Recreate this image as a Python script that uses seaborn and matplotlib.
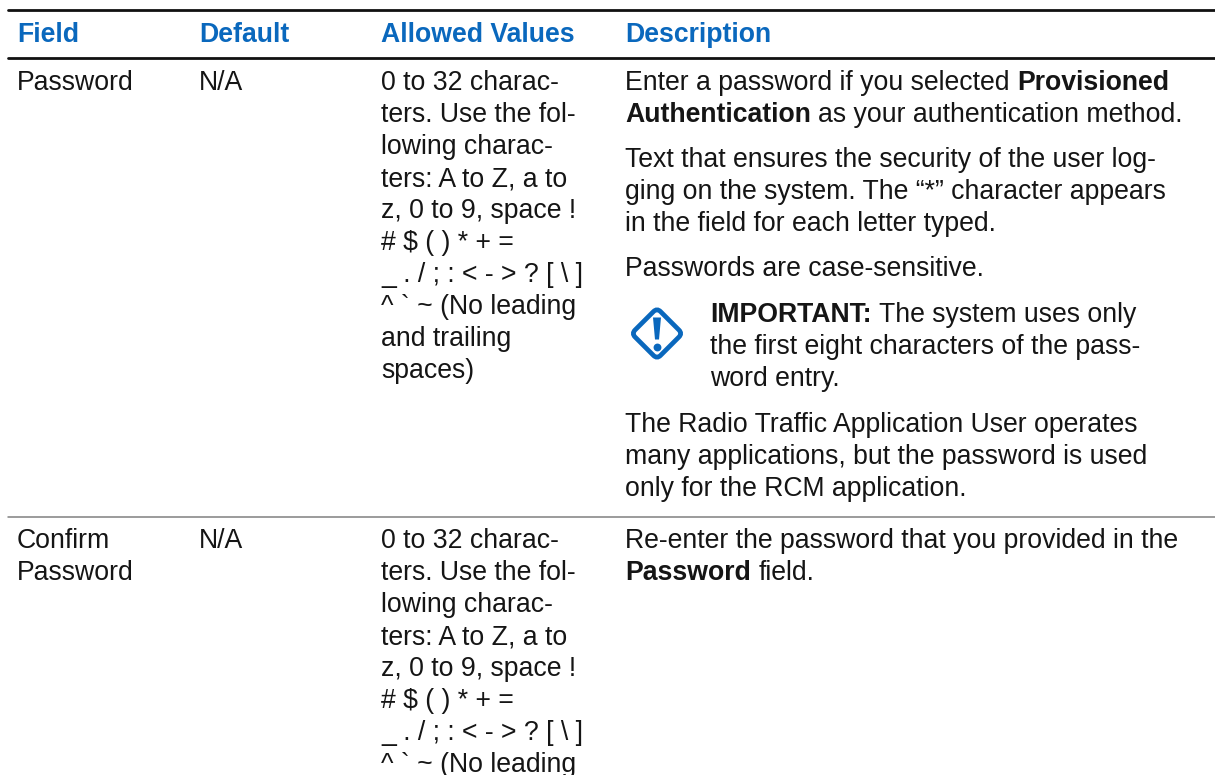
import matplotlib
matplotlib.use('Agg')
import matplotlib.pyplot as plt
from matplotlib.patches import FancyBboxPatch
from matplotlib.transforms import Affine2D
import seaborn as sns

headers = ['Field', 'Default', 'Allowed Values', 'Description']
field_1 = ['Password']
field_2 = ['Confirm', 'Password']
default_val = 'N/A'
allowed = ['0 to 32 charac-', 'ters. Use the fol-', 'lowing charac-', 'ters: A to Z, a to',
           'z, 0 to 9, space !', '# $ ( ) * + =', '_ . / ; : < - > ? [ \\ ]',
           '^ ` ~ (No leading', 'and trailing', 'spaces)']
# each line is a list of (text, is_bold)
desc_1 = [[('Enter a password if you selected', False), ('Provisioned', True)],
          [('Authentication', True), ('as your authentication method.', False)]]
desc_2 = ['Text that ensures the security of the user log-',
          'ging on the system. The “*” character appears',
          'in the field for each letter typed.']
desc_3 = ['Passwords are case-sensitive.']
note = [[('IMPORTANT:', True), ('The system uses only', False)],
        [('the first eight characters of the pass-', False)],
        [('word entry.', False)]]
desc_4 = ['The Radio Traffic Application User operates',
          'many applications, but the password is used',
          'only for the RCM application.']
desc_5 = [[('Re-enter the password that you provided in the', False)],
          [('Password', True), ('field.', False)]]

BLUE = '#0a68bd'
INK = '#151515'
FS = 19.2
PITCH = 32

sns.set_theme(style='white')
plt.rcParams['font.family'] = ['Liberation Sans', 'DejaVu Sans']

fig = plt.figure(figsize=(12.15, 7.75), dpi=100)
ax = fig.add_axes([0, 0, 1, 1])
ax.set_xlim(0, 1215)
ax.set_ylim(775, 0)
ax.axis('off')
renderer = fig.canvas.get_renderer()


def put(x, y, s, bold=False, color=INK):
    return ax.text(x, y, s, fontsize=FS, color=color, va='baseline', ha='left',
                   fontweight='bold' if bold else 'normal', parse_math=False,
                   clip_on=True)


def plain_block(x, y, lines):
    for i, line in enumerate(lines):
        put(x, y + i * PITCH, line)


def mixed_block(x, y, lines):
    for i, runs in enumerate(lines):
        cur = x
        for s, bold in runs:
            t = put(cur, y + i * PITCH, s, bold)
            cur = t.get_window_extent(renderer).x1 + 7.4


def rule(y, color, lw):
    sns.lineplot(x=[8, 1215], y=[y, y], color=color, linewidth=lw, ax=ax,
                 legend=False, errorbar=None)


rule(10, '#111111', 2.0)
rule(58, '#111111', 2.0)
rule(517, '#808080', 1.1)

for x, h in zip([17, 199, 381, 625], headers):
    put(x, 42, h, True, BLUE)

# first row
plain_block(17, 90, field_1)
put(199, 90, default_val)
plain_block(381, 90, allowed)
mixed_block(625, 90, desc_1)
plain_block(625, 167, desc_2)
plain_block(625, 276, desc_3)
mixed_block(710, 322, note)
plain_block(625, 432, desc_4)

# second row
plain_block(17, 548, field_2)
put(199, 548, default_val)
plain_block(381, 548, allowed)
mixed_block(625, 548, desc_5)

# important icon, a rounded square turned by 45 degrees
cx, cy = 657, 333.5
box = FancyBboxPatch((cx - 18, cy - 18), 36, 36, boxstyle='round,pad=0,rounding_size=5',
                     facecolor='none', edgecolor=BLUE, linewidth=3.4,
                     transform=Affine2D().rotate_deg_around(cx, cy, 45) + ax.transData)
ax.add_patch(box)
ax.fill([cx - 4, cx + 4, cx + 2, cx - 2], [cy - 16, cy - 16, cy + 6, cy + 6], color=BLUE, linewidth=0)
ax.scatter([cx], [cy + 13], s=32, color=BLUE, linewidths=0)

fig.savefig('out.png', dpi=100, facecolor='white')
